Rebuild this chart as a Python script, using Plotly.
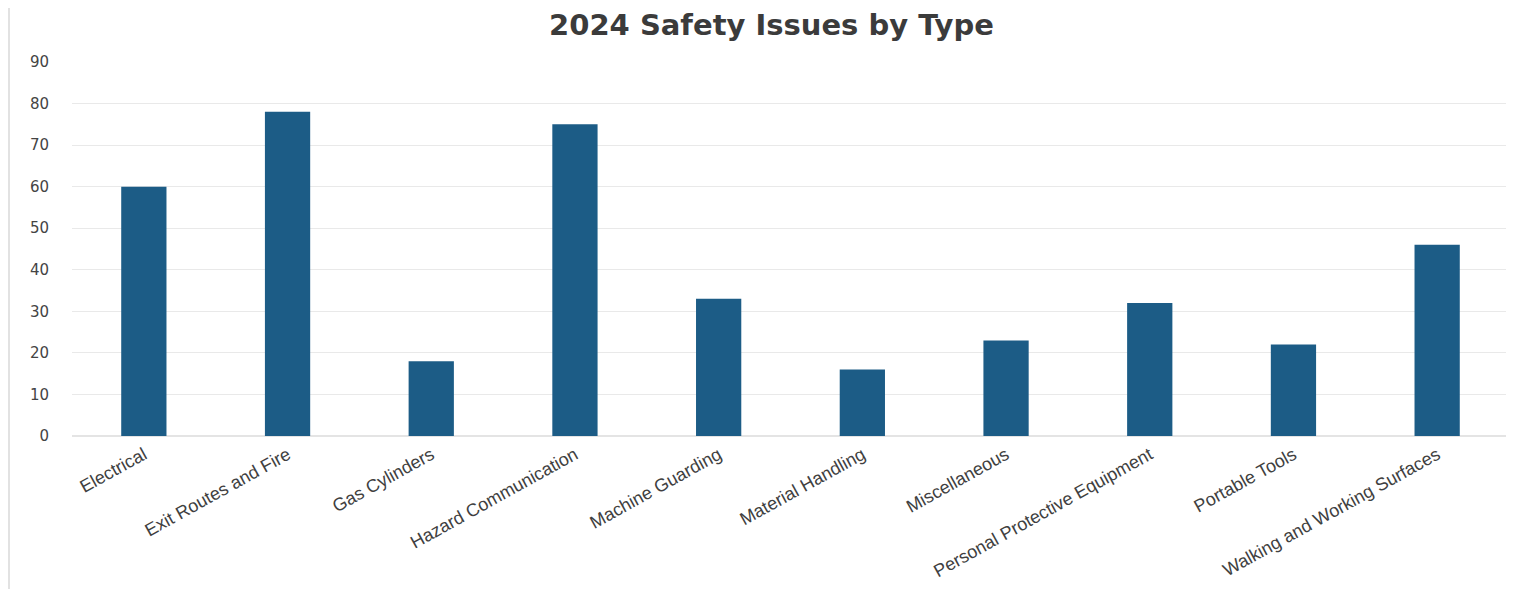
import plotly.graph_objects as go

categories = ["Electrical", "Exit Routes and Fire", "Gas Cylinders", "Hazard Communication",
              "Machine Guarding", "Material Handling", "Miscellaneous",
              "Personal Protective Equipment", "Portable Tools", "Walking and Working Surfaces"]
values = [60, 78, 18, 75, 33, 16, 23, 32, 22, 46]
y_ticks = [0, 10, 20, 30, 40, 50, 60, 70, 80, 90]

fig = go.Figure(go.Bar(x=categories, y=values, marker=dict(color="#1c5c86", line=dict(width=0))))

W, H = 1514, 589
# page body has an 8px offset; margins are set so the plot lands where the reference has it
ml, mr, mt, mb = 64, 13, 54, 161

fig.update_layout(
    width=W, height=H,
    margin=dict(l=ml, r=mr, t=mt, b=mb, pad=0),
    paper_bgcolor="white", plot_bgcolor="white",
    bargap=0.685,
    showlegend=False,
    title=dict(text="<b>2024 Safety Issues by Type</b>", x=763.5 / W, xanchor="center",
               y=1 - 17 / H, yanchor="middle",
               font=dict(family="DejaVu Sans", size=29, color="#3b3b3b")),
    font=dict(family="Liberation Sans", color="#404040"),
)
fig.update_xaxes(tickangle=-29, tickfont=dict(family="Liberation Sans", size=18, color="#404040"),
                 showgrid=False, showline=False, ticks="", ticklabelstandoff=4)
fig.update_yaxes(range=[0, 90], tickvals=y_ticks,
                 tickfont=dict(family="DejaVu Sans", size=15, color="#444444"),
                 showgrid=True, gridcolor="#e9e9e9", gridwidth=1, zeroline=True,
                 zerolinecolor="#e4e4e4", ticks="", ticklabelstandoff=22)

pw = W - ml - mr
ph = H - mt - mb
fig.add_shape(type="line", xref="paper", yref="paper",
              x0=(1 - ml) / pw, x1=(1 - ml) / pw,
              y0=(H - mb - H) / ph, y1=(H - mb) / ph,
              line=dict(color="#d8d8d8", width=1.5))

fig.write_html("out.html")
